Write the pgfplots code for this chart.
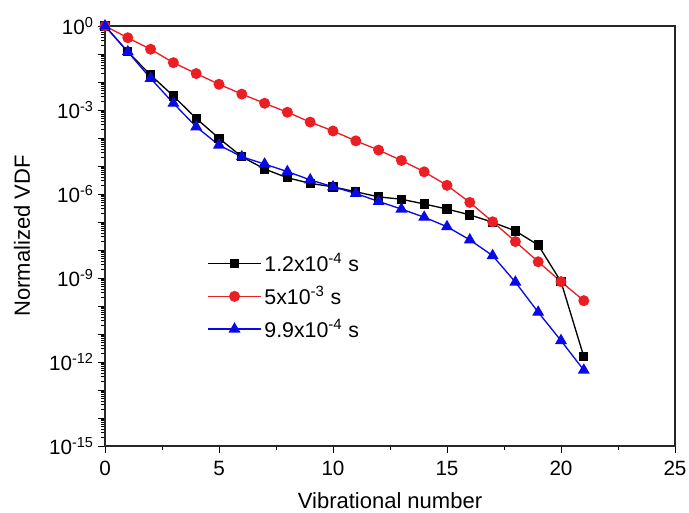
\documentclass[border=0pt]{standalone}
\usepackage{pgfplots}
\pgfplotsset{compat=1.18}
\usepackage{fontspec}
\setmainfont{Liberation Sans}
\definecolor{myred}{RGB}{235,30,35}
\definecolor{myblue}{RGB}{10,10,230}
\begin{document}
\begin{tikzpicture}
\useasboundingbox (-78.75pt,-50.25pt) rectangle (438pt,334.5pt);
\begin{axis}[
  scale only axis,
  width=427.5pt, height=315pt,
  xmin=0, xmax=25, ymode=log, ymin=1e-15, ymax=1,
  axis line style={line width=0.8pt, black!85},
  tick align=outside,
  xtick pos=left, ytick pos=left,
  xtick={0,5,10,15,20,25},
  minor xtick={2.5,7.5,12.5,17.5,22.5},
  ytick={1e-15,1e-14,1e-13,1e-12,1e-11,1e-10,1e-9,1e-8,1e-7,1e-6,1e-5,1e-4,1e-3,1e-2,1e-1,1},
  yticklabels={10\textsuperscript{-15},,,10\textsuperscript{-12},,,10\textsuperscript{-9},,,10\textsuperscript{-6},,,10\textsuperscript{-3},,,10\textsuperscript{0}},
  major tick length=5pt, minor tick length=3pt,
  tick style={black, line width=0.7pt},
  /pgf/number format/assume math mode=true,
  ticklabel style={font=\fontsize{15.5}{18}\selectfont},
  xticklabel style={yshift=-3pt},
  xticklabel={\pgfmathprintnumber[assume math mode=true]{\tick}},
  label style={font=\fontsize{16.5}{19}\selectfont},
  xlabel={Vibrational number},
  ylabel={Normalized VDF},
  xlabel style={at={(axis description cs:0.5,-0.131)}, anchor=center},
  ylabel style={at={(axis description cs:-0.1456,0.5)}, anchor=center},
  legend style={draw=none, fill=none, at={(0.172,0.472)}, anchor=north west,
    font=\fontsize{16}{19}\selectfont, row sep=5pt},
  legend cell align=left,
  legend image code/.code={\draw[#1] (0cm,0cm) -- (1.4cm,0cm); \draw[#1, mark repeat=2, mark phase=2] plot coordinates {(0cm,0cm) (0.7cm,0cm) (1.4cm,0cm)};},
]
\addplot[black, line width=1pt, mark=square*, mark size=3pt] coordinates {
(0,1) (1,1.2e-1) (2,1.78e-2) (3,3.16e-3) (4,5.0e-4) (5,9.8e-5) (6,2.14e-5)
(7,7.8e-6) (8,3.8e-6) (9,2.4e-6) (10,1.8e-6) (11,1.2e-6) (12,7.9e-7)
(13,6.5e-7) (14,4.4e-7) (15,2.9e-7) (16,1.8e-7) (17,9.8e-8) (18,4.8e-8)
(19,1.5e-8) (20,7.4e-10) (21,1.55e-12)};
\addlegendentry{1.2x10\textsuperscript{-4} s}
\addplot[myred, line width=1pt, mark=*, mark size=3.6pt] coordinates {
(0,1) (1,3.8e-1) (2,1.48e-1) (3,4.9e-2) (4,2.0e-2) (5,8.3e-3) (6,3.7e-3)
(7,1.74e-3) (8,8.3e-4) (9,3.7e-4) (10,1.78e-4) (11,7.9e-5) (12,3.7e-5)
(13,1.58e-5) (14,6.2e-6) (15,2.04e-6) (16,5.0e-7) (17,1.02e-7) (18,2.0e-8)
(19,3.8e-9) (20,7.4e-10) (21,1.55e-10)};
\addlegendentry{5x10\textsuperscript{-3} s}
\addplot[myblue, line width=1pt, mark=triangle*, mark size=4.2pt] coordinates {
(0,1) (1,1.2e-1) (2,1.35e-2) (3,1.74e-3) (4,2.5e-4) (5,5.6e-5) (6,2.14e-5)
(7,1.17e-5) (8,6.3e-6) (9,3.2e-6) (10,1.8e-6) (11,1.05e-6) (12,5.4e-7)
(13,2.9e-7) (14,1.48e-7) (15,6.8e-8) (16,2.3e-8) (17,6.3e-9) (18,7.1e-10)
(19,6.0e-11) (20,5.8e-12) (21,5.1e-13)};
\addlegendentry{9.9x10\textsuperscript{-4} s}
\end{axis}
\end{tikzpicture}
\end{document}
